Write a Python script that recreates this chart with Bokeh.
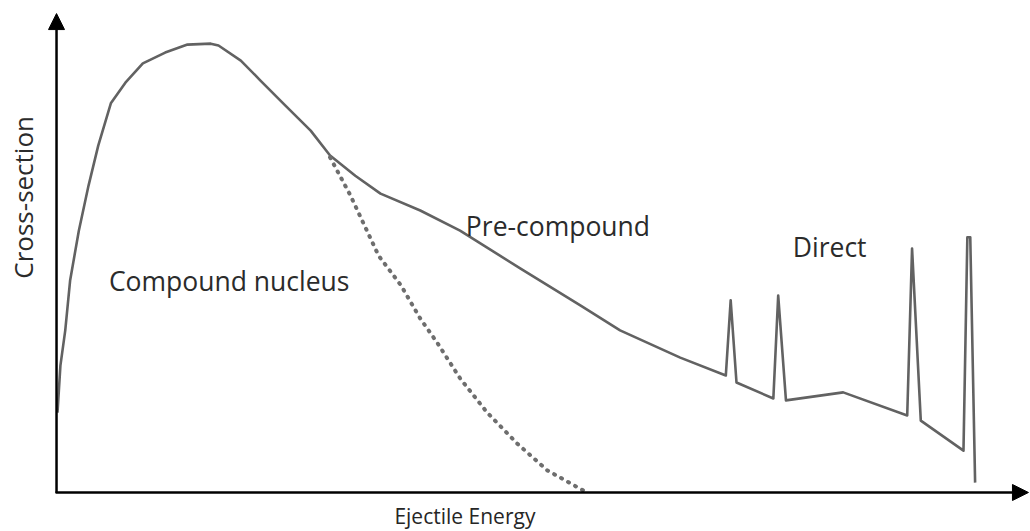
from bokeh.plotting import figure
from bokeh.models import Range1d, Label, Arrow, NormalHead
from bokeh.embed import file_html
from bokeh.resources import INLINE

# Schematic ejectile spectrum, arbitrary units (energy 0-100, cross-section 0-100)
total_energy = [0.0, 0.3, 0.8, 1.3, 2.2, 3.2, 4.2, 5.5, 7.0, 8.8, 11.1, 13.4, 15.8, 16.6,
                18.9, 20.9, 23.5, 26.1, 28.1, 30.7, 33.3, 37.4, 41.5, 47.7, 53.9, 58.0,
                64.2, 68.9, 69.4, 70.0, 73.8, 74.3, 75.1, 81.0, 87.6, 88.1, 89.0,
                93.4, 93.8, 94.1, 94.6]
total_xsec = [17.0, 27.0, 34.5, 45.1, 55.7, 65.3, 73.8, 82.8, 87.2, 91.3, 93.6, 95.3, 95.5, 95.1,
              91.9, 87.7, 82.3, 77.0, 71.7, 67.4, 63.6, 60.0, 55.7, 47.7, 39.8, 34.5,
              28.7, 24.9, 40.9, 23.4, 20.0, 41.9, 19.6, 21.3, 16.4, 51.9, 15.3,
              8.9, 54.3, 54.3, 2.1]

# Compound-nucleus (evaporation) component
cn_energy = [28.1, 30.2, 33.1, 35.4, 37.4, 39.2, 41.5, 44.3, 47.4, 50.5, 54.4]
cn_xsec = [71.3, 63.2, 50.4, 44.1, 37.0, 31.7, 24.3, 17.0, 10.4, 4.7, 0.2]

# Text annotations: (label, energy, cross-section)
region_labels = ["Compound nucleus", "Pre-compound", "Direct"]
region_energy = [5.3, 42.1, 75.8]
region_xsec = [45.1, 56.8, 52.3]

x_title = "Ejectile Energy"
y_title = "Cross-section"

p = figure(width=1030, height=531, output_backend="svg", toolbar_location=None,
           x_range=Range1d(-5.876, 100.31), y_range=Range1d(-8.298, 104.68),
           min_border=0, outline_line_color=None, background_fill_color="white",
           border_fill_color="white")
p.axis.visible = False
p.grid.visible = False

# Axes drawn as arrows
head = dict(size=16, fill_color="black", line_color="black")
p.add_layout(Arrow(end=NormalHead(**head), x_start=-0.1, y_start=-0.1, x_end=-0.1, y_end=101.9,
                   line_color="black", line_width=2.5))
p.add_layout(Arrow(end=NormalHead(**head), x_start=-0.2, y_start=0.0, x_end=100.1, y_end=0.0,
                   line_color="black", line_width=2.5))

# Spectrum curves
p.line(total_energy, total_xsec, line_color="#626262", line_width=2.6, line_join="round")
p.line(cn_energy, cn_xsec, line_color="#6e6e6e", line_width=4, line_dash="1 7",
       line_cap="round")

font = "Open Sans"
for txt, ex, sy in zip(region_labels, region_energy, region_xsec):
    p.add_layout(Label(x=ex, y=sy, text=txt, text_font=font, text_font_size="26.5px",
                       text_color="#2b2b2b", text_baseline="middle", text_align="left"))

p.add_layout(Label(x=42.0, y=-4.9, text=x_title, text_font=font, text_font_size="21px",
                   text_color="#262626", text_baseline="middle", text_align="center"))
p.add_layout(Label(x=-3.6, y=62.8, text=y_title, text_font=font, text_font_size="26px",
                   text_color="#2b2b2b", text_baseline="middle", text_align="center",
                   angle=90, angle_units="deg"))

open("out.html", "w").write(file_html(p, INLINE))
